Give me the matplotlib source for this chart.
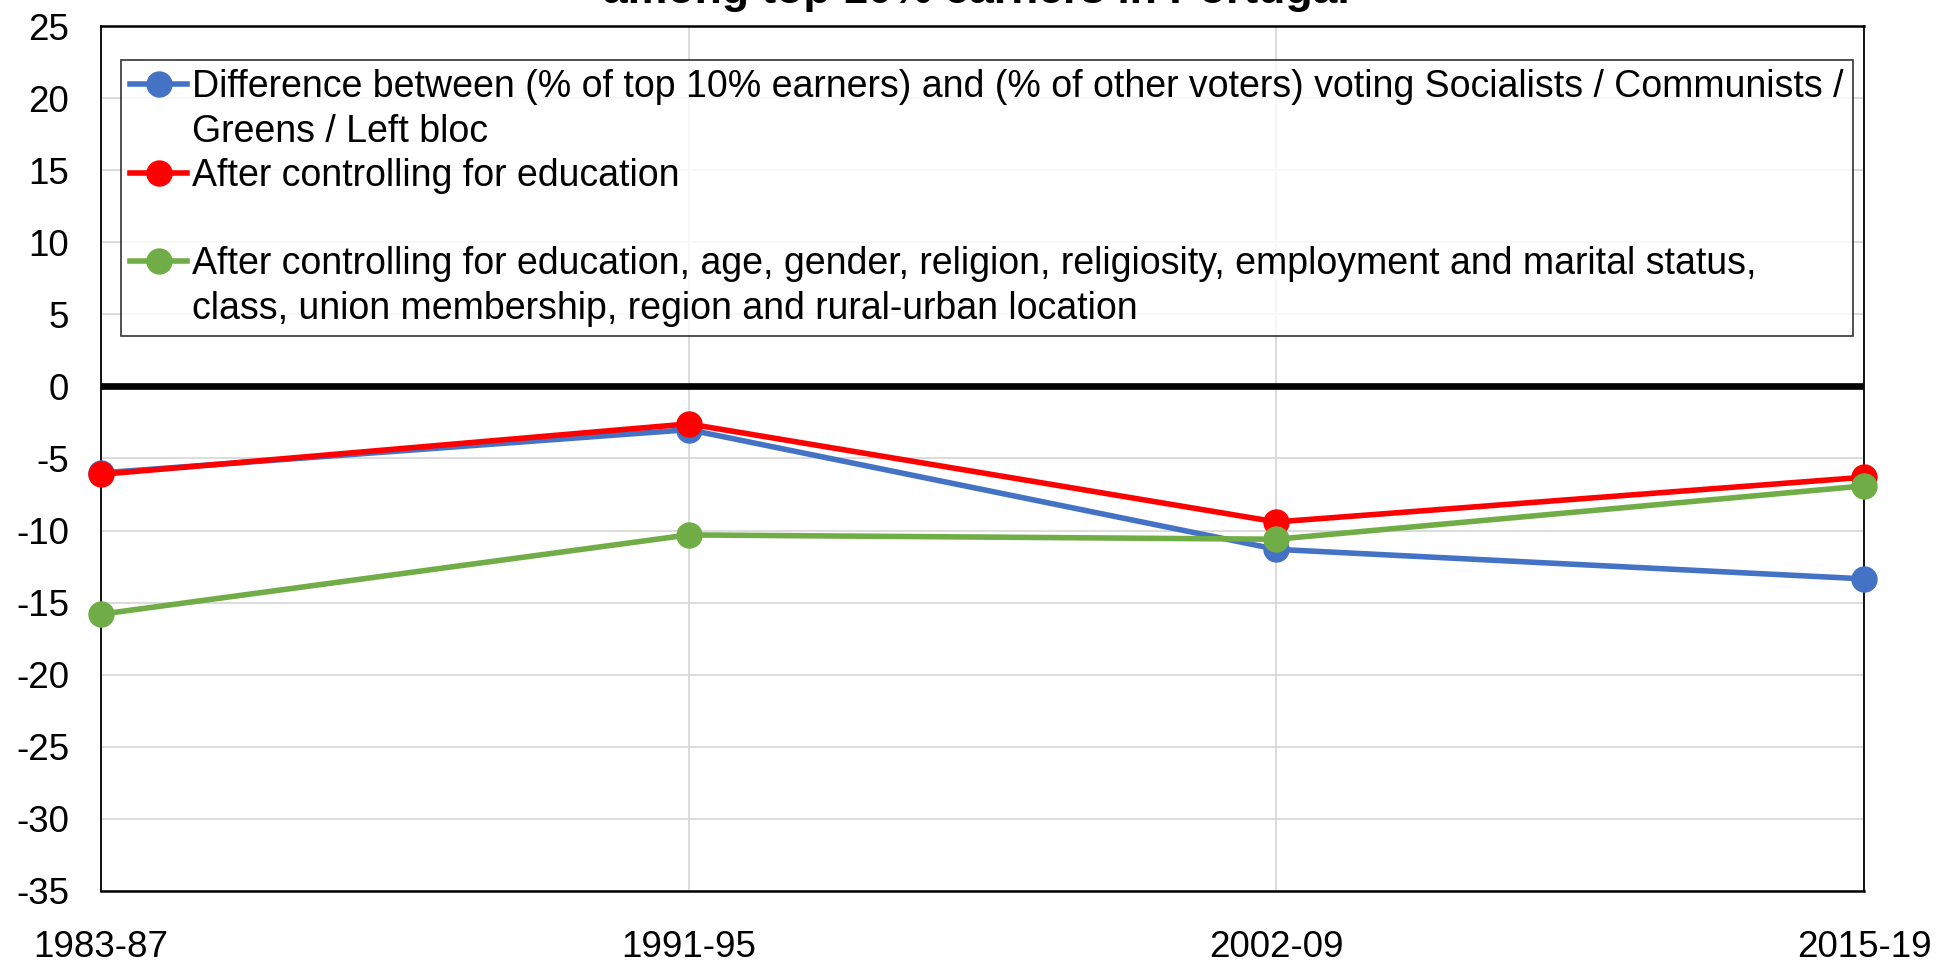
import matplotlib
matplotlib.use('Agg')
import matplotlib.pyplot as plt
from matplotlib.lines import Line2D

plt.rcParams['font.family'] = ['Liberation Sans', 'DejaVu Sans']
plt.rcParams['axes.unicode_minus'] = False

# Data
periods = ['1983-87', '1991-95', '2002-09', '2015-19']
raw_diff = [-6.0, -3.0, -11.3, -13.35]
ctrl_education = [-6.1, -2.6, -9.4, -6.3]
ctrl_all = [-15.8, -10.3, -10.6, -6.9]

legend_lines = [
    'Difference between (% of top 10% earners) and (% of other voters) voting Socialists / Communists /',
    'Greens / Left bloc',
    'After controlling for education',
    '',
    'After controlling for education, age, gender, religion, religiosity, employment and marital status,',
    'class, union membership, region and rural-urban location',
]

title = 'among top 10% earners in Portugal'

BLUE = '#4472C4'
RED = '#FF0000'
GREEN = '#70AD47'

W, H = 1953, 964
ax_left, ax_right, ax_top, ax_bottom = 101, 1864, 26, 891

fig = plt.figure(figsize=(W / 100, H / 100), dpi=100)
ax = fig.add_axes([ax_left / W, 1 - ax_bottom / H,
                   (ax_right - ax_left) / W, (ax_bottom - ax_top) / H])

x = list(range(len(periods)))
style = dict(linewidth=4, marker='o', markersize=18, clip_on=False)
l1, = ax.plot(x, raw_diff, color=BLUE, zorder=3, **style)
l2, = ax.plot(x, ctrl_education, color=RED, zorder=4, **style)
l3, = ax.plot(x, ctrl_all, color=GREEN, zorder=5, **style)

ax.axhline(0, color='black', linewidth=4.8, zorder=2)

ax.set_xlim(0, 3)
ax.set_ylim(-35, 25)
ax.set_yticks(range(-35, 30, 5))
ax.set_xticks(x)
ax.set_xticklabels(periods)
ax.tick_params(axis='both', length=0, labelsize=26.5)
ax.tick_params(axis='y', pad=23)
ax.tick_params(axis='x', pad=28)
ax.grid(True, color='#D9D9D9', linewidth=1.3, zorder=0)
ax.set_axisbelow(True)

for side in ['left', 'right']:
    ax.spines[side].set_linewidth(1.3)
for side in ['top', 'bottom']:
    ax.spines[side].set_linewidth(1.8)

blank = Line2D([], [], color='none')
handles = [l1, blank, l2, blank, l3, blank]
ax_w = ax_right - ax_left
ax_h = ax_bottom - ax_top
leg = ax.legend(handles, legend_lines, loc='upper left',
                bbox_to_anchor=((121 - ax_left) / ax_w, 1 - (60 - ax_top) / ax_h),
                fontsize=27, frameon=True, fancybox=False, edgecolor='black',
                handlelength=1.5, handletextpad=0.15, labelspacing=0.22,
                borderpad=0.25, borderaxespad=0)
leg.get_frame().set_linewidth(1.2)

fig.text(0.5, 1 - 3 / H, title, ha='center', va='baseline',
         fontsize=32, fontweight='bold')

fig.savefig('out.png', dpi=100)
